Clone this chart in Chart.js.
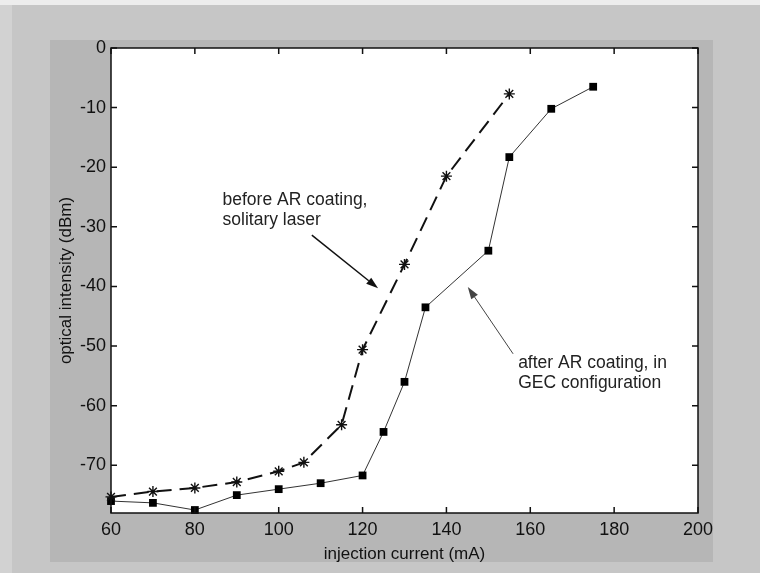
<!DOCTYPE html>
<html>
<head>
<meta charset="utf-8">
<script src="https://cdn.jsdelivr.net/npm/chart.js@4.4.1/dist/chart.umd.min.js"></script>
<style>
  html, body { margin: 0; padding: 0; background: #c6c6c6; }
</style>
</head>
<body>
<canvas id="chart" width="760" height="573"></canvas>
<script>
// injection current (mA) and optical intensity (dBm)
const solitaryCurrent = [60, 70, 80, 90, 100, 106, 115, 120, 130, 140, 155];
const solitaryDbm = [-75.3, -74.4, -73.8, -72.8, -71.0, -69.5, -63.2, -50.6, -36.3, -21.5, -7.7];

const gecCurrent = [60, 70, 80, 90, 100, 110, 120, 125, 130, 135, 150, 155, 165, 175];
const gecDbm = [-76.0, -76.3, -77.5, -75.0, -74.0, -73.0, -71.7, -64.4, -56.0, -43.5, -34.0, -18.3, -10.2, -6.5];

const xTicks = [60, 80, 100, 120, 140, 160, 180, 200];
const yTicks = [0, -10, -20, -30, -40, -50, -60, -70];

// annotation text (data units for placement) and arrows [fromX, fromY, toX, toY]
const noteBefore = ['before AR coating,', 'solitary laser'];
const noteBeforeAt = [86.6, -25.6];
const noteAfter = ['after AR coating, in', 'GEC configuration'];
const noteAfterAt = [157.1, -52.8];
const arrowBefore = [107.9, -31.4, 123.7, -40.3];
const arrowAfter = [155.9, -51.3, 145.1, -40.1];

const FONT = 'Liberation Sans, Arial, sans-serif';

const ctx = document.getElementById('chart').getContext('2d');

const backdrop = {
  id: 'backdrop',
  beforeDraw(chart) {
    const c = chart.ctx;
    const a = chart.chartArea;
    c.save();
    c.fillStyle = '#c6c6c6';
    c.fillRect(0, 0, chart.width, chart.height);
    c.fillStyle = '#ededed';
    c.fillRect(0, 0, chart.width, 5);
    c.fillStyle = '#d2d2d2';
    c.fillRect(0, 5, 12, chart.height - 5);
    c.fillStyle = '#b6b6b6';
    c.fillRect(50, 40, 663, 522);
    c.fillStyle = '#ffffff';
    c.fillRect(a.left, a.top, a.right - a.left, a.bottom - a.top);
    c.restore();
  }
};

const frame = {
  id: 'frame',
  afterDraw(chart) {
    const c = chart.ctx;
    const a = chart.chartArea;
    const xs = chart.scales.x, ys = chart.scales.y;
    c.save();
    c.strokeStyle = '#111';
    c.lineWidth = 1.5;
    c.strokeRect(a.left, a.top, a.right - a.left, a.bottom - a.top);
    c.beginPath();
    xTicks.forEach(v => {
      const px = xs.getPixelForValue(v);
      c.moveTo(px, a.bottom); c.lineTo(px, a.bottom - 6);
      c.moveTo(px, a.top); c.lineTo(px, a.top + 6);
    });
    yTicks.forEach(v => {
      const py = ys.getPixelForValue(v);
      c.moveTo(a.left, py); c.lineTo(a.left + 6, py);
      c.moveTo(a.right, py); c.lineTo(a.right - 6, py);
    });
    c.stroke();

    // notes
    c.fillStyle = '#222';
    c.font = '17.5px ' + FONT;
    c.textBaseline = 'middle';
    const lineH = 20;
    const drawNote = (lines, at) => {
      const x = xs.getPixelForValue(at[0]);
      const y = ys.getPixelForValue(at[1]);
      lines.forEach((t, i) => c.fillText(t, x, y + i * lineH));
    };
    drawNote(noteBefore, noteBeforeAt);
    drawNote(noteAfter, noteAfterAt);

    const drawArrow = (arr, color, width) => {
      const x1 = xs.getPixelForValue(arr[0]), y1 = ys.getPixelForValue(arr[1]);
      const x2 = xs.getPixelForValue(arr[2]), y2 = ys.getPixelForValue(arr[3]);
      const ang = Math.atan2(y2 - y1, x2 - x1);
      const len = 12, half = 4;
      c.strokeStyle = color;
      c.fillStyle = color;
      c.lineWidth = width;
      c.beginPath();
      c.moveTo(x1, y1);
      c.lineTo(x2 - len * Math.cos(ang), y2 - len * Math.sin(ang));
      c.stroke();
      c.beginPath();
      c.moveTo(x2, y2);
      c.lineTo(x2 - len * Math.cos(ang) + half * Math.sin(ang), y2 - len * Math.sin(ang) - half * Math.cos(ang));
      c.lineTo(x2 - len * Math.cos(ang) - half * Math.sin(ang), y2 - len * Math.sin(ang) + half * Math.cos(ang));
      c.closePath();
      c.fill();
    };
    drawArrow(arrowBefore, '#111', 1.5);
    drawArrow(arrowAfter, '#444', 1);
    c.restore();
  }
};

new Chart(ctx, {
  type: 'line',
  data: {
    datasets: [{
      label: 'before AR coating, solitary laser',
      data: solitaryCurrent.map((x, i) => ({ x, y: solitaryDbm[i] })),
      borderColor: '#111',
      borderWidth: 2,
      borderDash: [15, 8],
      pointStyle: 'star',
      pointRadius: 5.5,
      pointBorderWidth: 1.4,
      pointBorderColor: '#111',
      pointBackgroundColor: '#111',
      tension: 0,
      fill: false
    }, {
      label: 'after AR coating, in GEC configuration',
      data: gecCurrent.map((x, i) => ({ x, y: gecDbm[i] })),
      borderColor: '#333',
      borderWidth: 1,
      pointStyle: 'rect',
      pointRadius: 5.5,
      pointBorderWidth: 0,
      pointBorderColor: '#000',
      pointBackgroundColor: '#000',
      tension: 0,
      fill: false
    }]
  },
  options: {
    responsive: false,
    animation: false,
    clip: false,
    layout: { padding: { left: 52, top: 48, right: 62, bottom: 4 } },
    plugins: {
      legend: { display: false },
      tooltip: { enabled: false }
    },
    scales: {
      x: {
        type: 'linear',
        min: 60,
        max: 200,
        afterBuildTicks: s => { s.ticks = xTicks.map(v => ({ value: v })) },
        afterFit: s => { s.height = 56 },
        grid: { display: false, drawTicks: false },
        border: { display: false },
        ticks: { autoSkip: false, maxRotation: 0, color: '#111', padding: 6, font: { family: FONT, size: 18 } },
        title: { display: true, text: 'injection current (mA)', color: '#111', padding: { top: 0, bottom: 4 }, font: { family: FONT, size: 17 } }
      },
      y: {
        type: 'linear',
        min: -78,
        max: 0,
        afterBuildTicks: s => { s.ticks = yTicks.map(v => ({ value: v })) },
        afterFit: s => { s.width = 59 },
        grid: { display: false, drawTicks: false },
        border: { display: false },
        ticks: { autoSkip: false, color: '#111', padding: 5, font: { family: FONT, size: 18 } },
        title: { display: true, text: 'optical intensity (dBm)', color: '#111', padding: { top: 4, bottom: 0 }, font: { family: FONT, size: 17 } }
      }
    }
  },
  plugins: [backdrop, frame]
});
</script>
</body>
</html>
